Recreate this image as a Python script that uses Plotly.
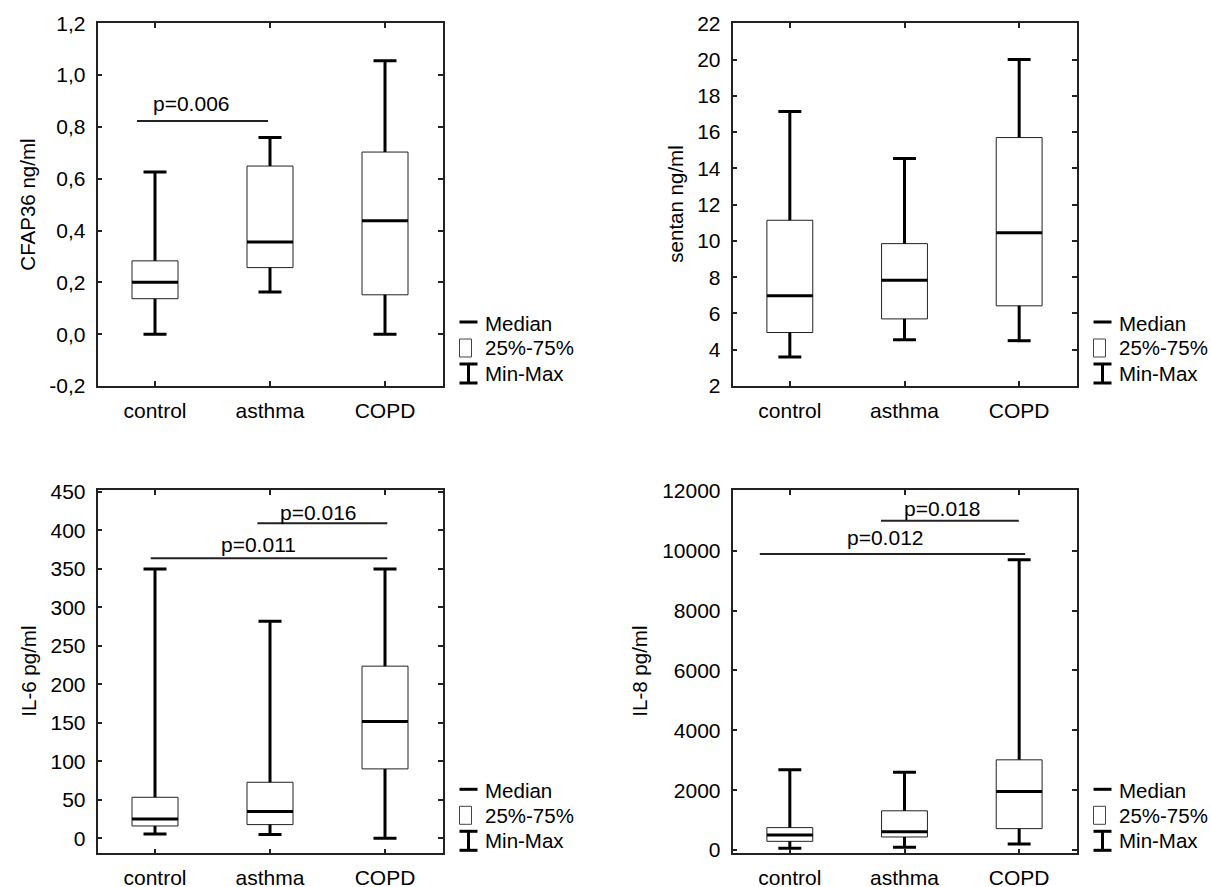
import plotly.graph_objects as go

# ---------------- data ----------------
categories = ["control", "asthma", "COPD"]

cfap36_min = [0.0, 0.163, 0.0]
cfap36_q1 = [0.137, 0.257, 0.152]
cfap36_med = [0.200, 0.356, 0.438]
cfap36_q3 = [0.283, 0.649, 0.703]
cfap36_max = [0.626, 0.759, 1.055]

sentan_min = [3.6, 4.55, 4.5]
sentan_q1 = [4.95, 5.7, 6.42]
sentan_med = [6.98, 7.83, 10.45]
sentan_q3 = [11.14, 9.85, 15.7]
sentan_max = [17.14, 14.55, 20.0]

il6_min = [5.6, 4.8, 0.0]
il6_q1 = [16.0, 17.8, 90.2]
il6_med = [25.1, 34.7, 151.7]
il6_q3 = [53.3, 72.8, 223.7]
il6_max = [350.0, 282.0, 350.0]

il8_min = [60, 95, 200]
il8_q1 = [290, 435, 714]
il8_med = [500, 612, 1953]
il8_q3 = [748, 1310, 3013]
il8_max = [2680, 2600, 9700]

cfap36_tickvals = [-0.2, 0.0, 0.2, 0.4, 0.6, 0.8, 1.0, 1.2]
cfap36_ticktext = ["-0,2", "0,0", "0,2", "0,4", "0,6", "0,8", "1,0", "1,2"]
sentan_tickvals = [2, 4, 6, 8, 10, 12, 14, 16, 18, 20, 22]
sentan_ticktext = ["2", "4", "6", "8", "10", "12", "14", "16", "18", "20", "22"]
il6_tickvals = [0, 50, 100, 150, 200, 250, 300, 350, 400, 450]
il6_ticktext = ["0", "50", "100", "150", "200", "250", "300", "350", "400", "450"]
il8_tickvals = [0, 2000, 4000, 6000, 8000, 10000, 12000]
il8_ticktext = ["0", "2000", "4000", "6000", "8000", "10000", "12000"]

# significance brackets: (from, to, level, label, label_x, label_y)
cfap36_pvals = [(-0.157, 0.983, 0.823, "p=0.006", 0.32, 0.892)]
sentan_pvals = []
il6_pvals = [(-0.037, 2.02, 363.8, "p=0.011", 0.90, 381.7),
             (0.89, 2.02, 409.3, "p=0.016", 1.42, 424.0)]
il8_pvals = [(-0.262, 2.052, 9890, "p=0.012", 0.838, 10441),
             (0.795, 1.997, 11000, "p=0.018", 1.328, 11427)]

legend_labels = ["Median", "25%-75%", "Min-Max"]

# ---------------- layout helpers ----------------
W, H = 1211, 887
FONT = "Liberation Sans, Arial, sans-serif"


def fx(p):
    return p / W


def fy(p):
    return 1 - p / H


panels = [
    dict(title="CFAP36 ng/ml", mn=cfap36_min, q1=cfap36_q1, med=cfap36_med, q3=cfap36_q3, mx=cfap36_max,
         tv=cfap36_tickvals, tt=cfap36_ticktext, rng=[-0.2, 1.2], box=(97.5, 442.5, 23.3, 386.0),
         tx=28, pv=cfap36_pvals),
    dict(title="sentan ng/ml", mn=sentan_min, q1=sentan_q1, med=sentan_med, q3=sentan_q3, mx=sentan_max,
         tv=sentan_tickvals, tt=sentan_ticktext, rng=[2, 22], box=(732.5, 1076.5, 23.3, 386.0),
         tx=676, pv=sentan_pvals),
    dict(title="IL-6 pg/ml", mn=il6_min, q1=il6_q1, med=il6_med, q3=il6_q3, mx=il6_max,
         tv=il6_tickvals, tt=il6_ticktext, rng=[-19.5, 452.6], box=(97.5, 442.5, 490.0, 853.3),
         tx=29, pv=il6_pvals),
    dict(title="IL-8 pg/ml", mn=il8_min, q1=il8_q1, med=il8_med, q3=il8_q3, mx=il8_max,
         tv=il8_tickvals, tt=il8_ticktext, rng=[-110, 12030], box=(732.5, 1076.5, 490.0, 853.3),
         tx=640, pv=il8_pvals),
]

fig = go.Figure()
shapes = []
annotations = []
layout = {}

xs_idx = list(range(len(categories)))

for i, p in enumerate(panels):
    n = "" if i == 0 else str(i + 1)
    xa, ya = "x" + n, "y" + n
    L, R, T, B = p["box"]

    # IQR boxes
    fig.add_trace(go.Bar(
        x=xs_idx, y=[b - a for a, b in zip(p["q1"], p["q3"])], base=p["q1"], width=0.4,
        marker=dict(color="white", line=dict(color="#222222", width=1)),
        xaxis=xa, yaxis=ya, showlegend=False, hoverinfo="skip"))

    # whiskers, caps, medians
    wx, wy = [], []
    for j in xs_idx:
        wx += [j, j, None, j, j, None, j - 0.1, j + 0.1, None, j - 0.1, j + 0.1, None, j - 0.2, j + 0.2, None]
        wy += [p["q3"][j], p["mx"][j], None, p["q1"][j], p["mn"][j], None,
               p["mx"][j], p["mx"][j], None, p["mn"][j], p["mn"][j], None,
               p["med"][j], p["med"][j], None]
    fig.add_trace(go.Scatter(x=wx, y=wy, mode="lines", line=dict(color="black", width=3),
                             xaxis=xa, yaxis=ya, showlegend=False, hoverinfo="skip"))

    # axes
    common = dict(ticks="inside", ticklen=5, tickwidth=1.5, tickcolor="#222222",
                  showline=True, linecolor="#222222", linewidth=1.5, mirror="ticks",
                  showgrid=False, zeroline=False, automargin=False)
    layout["xaxis" + n] = dict(domain=[fx(L), fx(R)], range=[-0.5, 2.5], tickvals=xs_idx,
                               ticktext=categories, anchor=ya, ticklabelstandoff=5,
                               tickfont=dict(size=21, color="black", family=FONT), **common)
    layout["yaxis" + n] = dict(domain=[fy(B), fy(T)], range=p["rng"], tickvals=p["tv"],
                               ticktext=p["tt"], anchor=xa, ticklabelstandoff=6,
                               tickfont=dict(size=21, color="black", family=FONT), **common)

    # axis title
    annotations.append(dict(text=p["title"], x=fx(p["tx"]), y=(fy(B) + fy(T)) / 2, xref="paper", yref="paper",
                            textangle=-90, showarrow=False, xanchor="center", yanchor="middle",
                            font=dict(size=20.5, color="black", family=FONT)))

    # significance brackets
    for (x0, x1, lvl, lab, lx, ly) in p["pv"]:
        shapes.append(dict(type="line", xref=xa, yref=ya, x0=x0, x1=x1, y0=lvl, y1=lvl,
                           line=dict(color="#222222", width=2)))
        annotations.append(dict(text=lab, x=lx, y=ly, xref=xa, yref=ya, showarrow=False,
                                xanchor="center", yanchor="middle",
                                font=dict(size=21, color="black", family=FONT)))

    # legend (drawn)
    sx0, sx1 = R + 17, R + 35
    shapes.append(dict(type="line", xref="paper", yref="paper", x0=fx(sx0), x1=fx(sx1),
                       y0=fy(B - 64), y1=fy(B - 64), line=dict(color="black", width=3)))
    shapes.append(dict(type="rect", xref="paper", yref="paper", x0=fx(R + 17), x1=fx(R + 29),
                       y0=fy(B - 29), y1=fy(B - 47), line=dict(color="#444444", width=1),
                       fillcolor="white"))
    cx = R + 26
    shapes.append(dict(type="line", xref="paper", yref="paper", x0=fx(cx), x1=fx(cx),
                       y0=fy(B - 3), y1=fy(B - 22), line=dict(color="black", width=3)))
    for yy in (B - 22, B - 3):
        shapes.append(dict(type="line", xref="paper", yref="paper", x0=fx(sx0), x1=fx(sx1),
                           y0=fy(yy), y1=fy(yy), line=dict(color="black", width=3)))
    for lab, off in zip(legend_labels, (63, 38, 13)):
        annotations.append(dict(text=lab, x=fx(R + 40.5), y=fy(B - off), xref="paper", yref="paper",
                                showarrow=False, xanchor="left", yanchor="middle",
                                font=dict(size=20.5, color="black", family=FONT)))

fig.update_layout(width=W, height=H, margin=dict(l=0, r=0, t=0, b=0, autoexpand=False),
                  paper_bgcolor="white", plot_bgcolor="white",
                  font=dict(family=FONT, color="black"),
                  shapes=shapes, annotations=annotations, showlegend=False, **layout)

fig.write_html("out.html")
